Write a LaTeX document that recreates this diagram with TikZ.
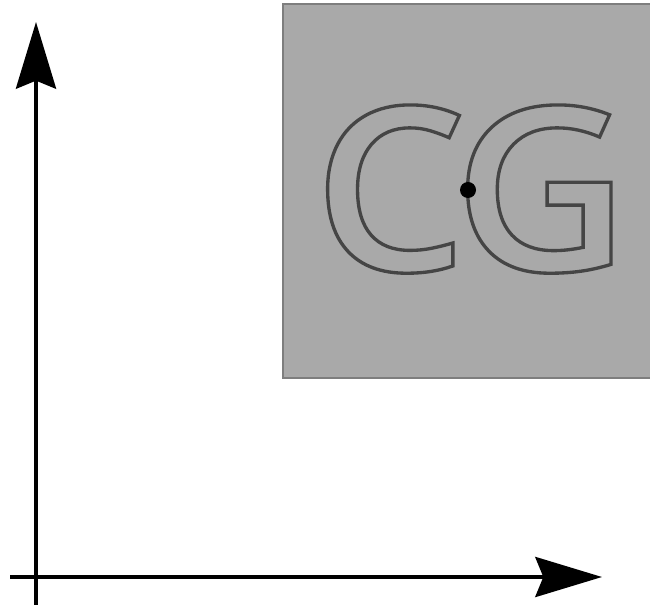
\documentclass[tikz,border=0pt]{standalone}
\usepackage{fontspec}
\usetikzlibrary{arrows.meta}
\IfFontExistsTF{Open Sans Semibold}
  {\newfontfamily\logofont[FakeStretch=1.06]{Open Sans Semibold}}
  {\IfFontExistsTF{OpenSans-SemiBold}
    {\newfontfamily\logofont[FakeStretch=1.06]{OpenSans-SemiBold}}
    {\newfontfamily\logofont[FakeStretch=1.06]{Open Sans Bold}}}
\definecolor{panelfill}{HTML}{A9A9A9}
\definecolor{panelline}{HTML}{7E7E7E}
% stroked (hollow) glyphs: text render mode 1, dark grey stroke
\newcommand\hollow[1]{\special{pdf:literal direct 1 Tr 2.5 w 0.27 G}#1\special{pdf:literal direct 0 Tr}}
\tikzset{
  axis/.style={line width=3pt, -{Stealth[length=50pt, width=30pt, inset=6pt]}},
  panel/.style={fill=panelfill, draw=panelline, line width=1.2pt},
  letter/.style={anchor=base west, inner sep=0pt,
    font=\fontsize{172}{172}\selectfont\logofont},
  pivot/.style={circle, fill=black, inner sep=0pt, minimum size=12pt}
}
\begin{document}
\begin{tikzpicture}[x=0.75pt, y=-0.75pt]
  \useasboundingbox (0,0) rectangle (650,605);
  \fill[white] (0,0) rectangle (650,605);
  % coordinate axes
  \coordinate (ybot) at (36,612);
  \coordinate (ytop) at (36,22);
  \coordinate (xleft) at (10,577);
  \coordinate (xright) at (602,577);
  \draw[axis] (ybot) -- (ytop);
  \draw[axis] (xleft) -- (xright);
  % grey panel with the outlined letters
  \draw[panel] (283,4) rectangle (660,378);
  \node[letter] (c) at (313,271) {\hollow{C}};
  \node[letter] (g) at (453,271) {\hollow{G}};
  \node[pivot] (dot) at (468,190) {};
\end{tikzpicture}
\end{document}
